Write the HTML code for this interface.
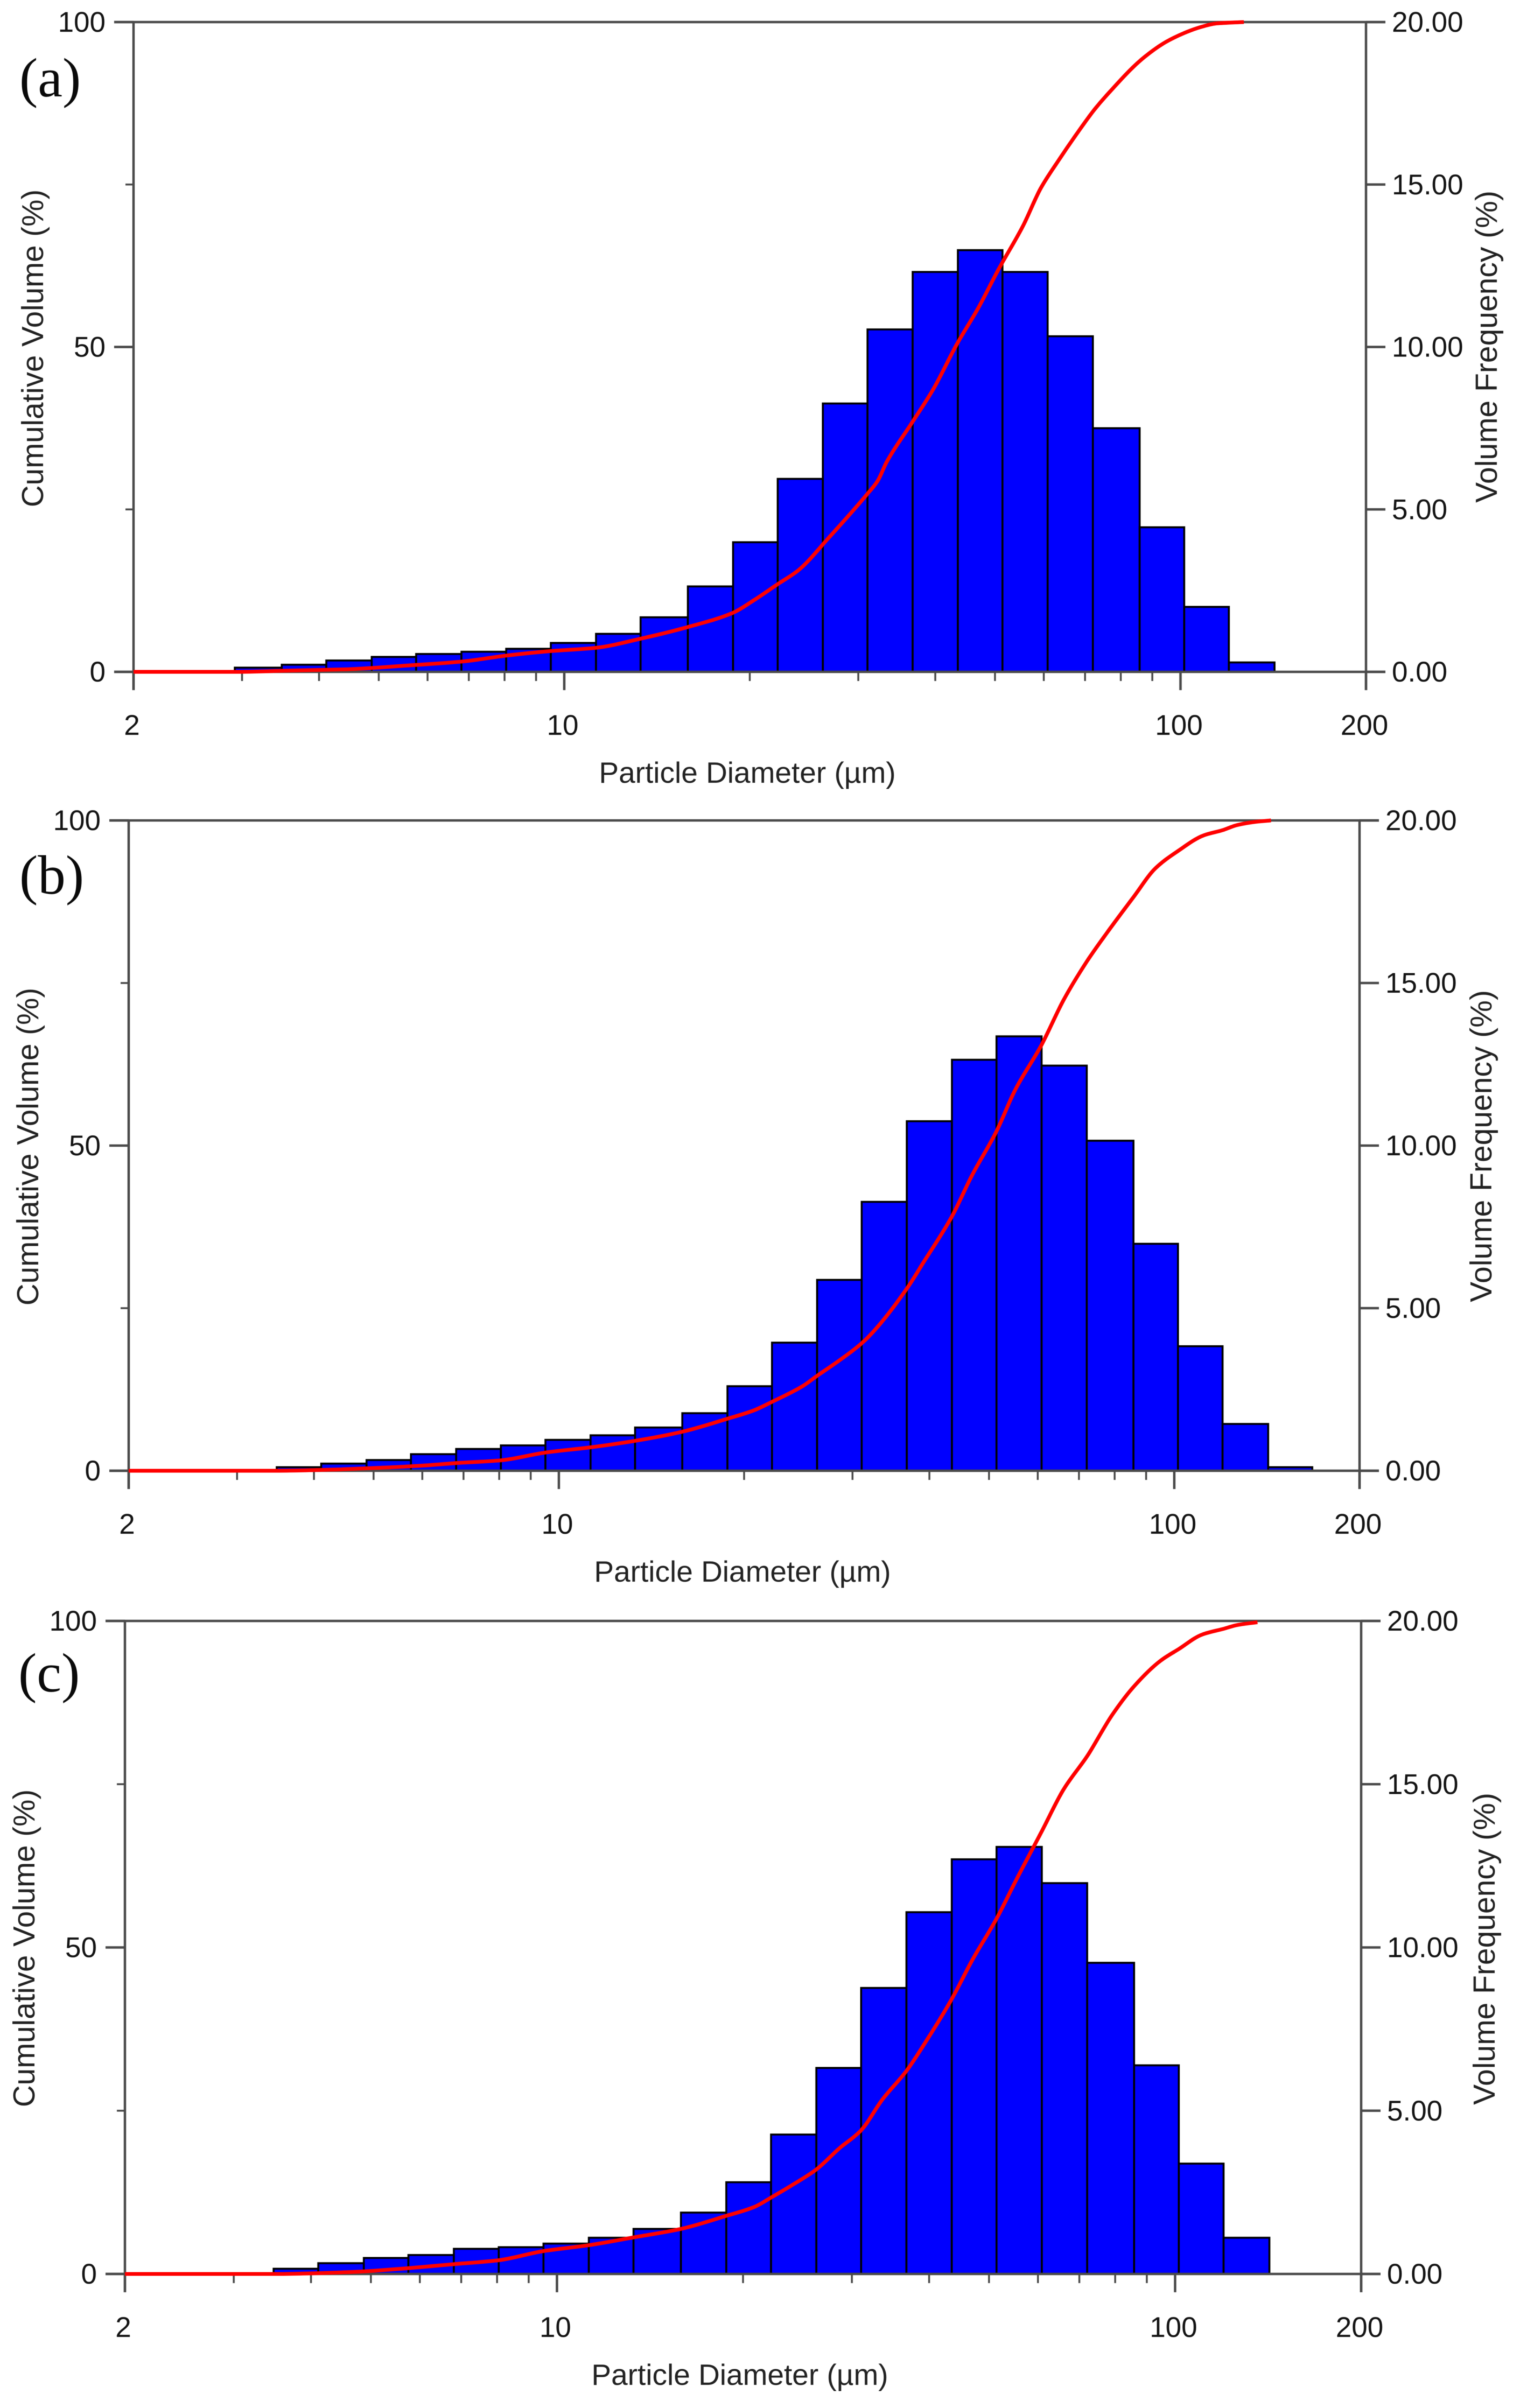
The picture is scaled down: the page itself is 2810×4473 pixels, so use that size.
<!DOCTYPE html>
<html lang="en">
<head>
<meta charset="utf-8">
<title>Particle size distributions</title>
<style>
html,body{margin:0;padding:0;background:#fff;}
svg{display:block;filter:blur(0.8px);}
text{font-family:"Liberation Sans",sans-serif;fill:#141414;}
.panel-tag{font-family:"Liberation Serif",serif;font-size:103px;fill:#0a0a0a;}
.axis-title{fill:#222;}
.x-title{font-size:55px;}
.left-title{font-size:56.5px;}
.right-title{font-size:57px;}
</style>
</head>
<body>
<svg id="figure" xmlns="http://www.w3.org/2000/svg" width="2810" height="4473" viewBox="0 0 2810 4473">
  <rect x="0" y="0" width="2810" height="4473" fill="#ffffff"/>

  <g id="panel-a"></g>
  <text class="panel-tag" x="36" y="179">(a)</text>
  <text class="axis-title x-title" x="1388" y="1454" text-anchor="middle">Particle Diameter (µm)</text>
  <text class="axis-title left-title" transform="translate(80 647) rotate(-90)" text-anchor="middle">Cumulative Volume (%)</text>
  <text class="axis-title right-title" transform="translate(2780 644) rotate(-90)" text-anchor="middle">Volume Frequency (%)</text>

  <g id="panel-b"></g>
  <text class="panel-tag" x="36" y="1660">(b)</text>
  <text class="axis-title x-title" x="1379" y="2938" text-anchor="middle">Particle Diameter (µm)</text>
  <text class="axis-title left-title" transform="translate(71 2130) rotate(-90)" text-anchor="middle">Cumulative Volume (%)</text>
  <text class="axis-title right-title" transform="translate(2770 2129) rotate(-90)" text-anchor="middle">Volume Frequency (%)</text>

  <g id="panel-c"></g>
  <text class="panel-tag" x="34" y="3142">(c)</text>
  <text class="axis-title x-title" x="1374" y="4430" text-anchor="middle">Particle Diameter (µm)</text>
  <text class="axis-title left-title" transform="translate(64 3619) rotate(-90)" text-anchor="middle">Cumulative Volume (%)</text>
  <text class="axis-title right-title" transform="translate(2776 3620) rotate(-90)" text-anchor="middle">Volume Frequency (%)</text>
</svg>

<script>
// ---- Chart data ----
const binEdges = [2.92,3.48,4.11,4.87,5.75,6.81,8.05,9.51,11.26,13.3,15.87,18.79,22.2,26.28,31.05,36.76,43.52,51.42,60.87,72.08,85.84,101.4,119.8,142.1,167.6];

const freqA = [0.13,0.22,0.35,0.46,0.55,0.62,0.71,0.89,1.17,1.68,2.63,3.99,5.94,8.26,10.54,12.31,12.98,12.31,10.33,7.5,4.45,2.0,0.29,0];
const freqB = [0,0.11,0.22,0.33,0.51,0.67,0.78,0.95,1.09,1.33,1.77,2.6,3.94,5.87,8.27,10.75,12.64,13.36,12.46,10.15,6.98,3.83,1.44,0.11];
const freqC = [0,0.16,0.33,0.49,0.58,0.77,0.82,0.93,1.11,1.38,1.88,2.81,4.27,6.31,8.76,11.08,12.7,13.08,11.97,9.53,6.39,3.38,1.11,0];

const cumDiamA = [2,2.92,3.59,4.45,5.62,6.85,8.05,9.51,11.26,13.3,15.87,18.79,20.37,22.2,23.96,26.9,30.98,32.26,33.36,36.76,39.7,43.4,46.97,50.7,55.5,59.3,63.5,67.4,72.6,75.5,87.6,96.2,108.5,114.6,126.7];
const cumVolA = [0,0,0.2,0.4,1.0,1.6,2.5,3.2,3.7,5.1,6.9,9.1,11.1,13.5,15.6,20.7,27.3,29.4,32.3,38.5,43.5,50.5,56.0,62,68.6,74.4,78.8,82.4,86.6,88.5,94.7,97.3,99.3,99.8,100];

const cumDiamB = [2,3.48,4.37,5.23,6.04,6.85,8.05,9.51,11.26,13.3,15.87,18.79,20.76,22.2,24.88,26.28,28.5,31.05,32.65,36.76,39.1,43.52,46.9,51.42,55.1,60.87,66.1,72.08,77.7,85.84,93.1,101.4,111.6,119.8,126.6,136,143.6];
const cumVolB = [0,0,0.2,0.5,0.8,1.2,1.6,2.8,3.6,4.6,6.0,8.0,9.3,10.6,13.0,14.6,16.9,19.6,21.7,28,32,39.1,45.4,52.2,58.5,65.5,72.4,78.3,82.7,88.2,92.6,95.3,97.7,98.5,99.3,99.8,100];

const cumDiamC = [2,3.48,4.66,5.77,6.81,8.05,9.51,11.26,13.3,15.87,18.79,20.9,22.2,24.1,26.28,28.6,31.05,33.6,36.76,39.9,43.52,47,51.42,55.3,60.87,66,72.08,79.1,85.84,94.7,101.4,110.5,119.8,126.4,135.9];
const cumVolC = [0,0,0.3,0.9,1.5,2.1,3.5,4.4,5.6,6.9,8.9,10.3,11.7,13.7,16,19.2,22,26.7,31.1,36.2,42.1,48.1,54.4,60.3,67.8,74.2,79.3,85.6,90,93.9,95.7,97.9,98.8,99.4,99.8];

const xMajorTicks = [2,10,100,200];
const xMinorTicks = [3,4,5,6,7,8,9,20,30,40,50,60,70,80,90];
const leftMajorTicks = [0,50,100];
const leftMinorTicks = [25,75];
const rightTicks = [0,5,10,15,20];
const rightTickLabels = ["0.00","5.00","10.00","15.00","20.00"];

// ---- Panel layout ----
const panels = [
  {id:"a", left:248, right:2537, top:41,   bottom:1248, freq:freqA, diam:cumDiamA, vol:cumVolA},
  {id:"b", left:239, right:2525, top:1524, bottom:2732, freq:freqB, diam:cumDiamB, vol:cumVolB},
  {id:"c", left:232, right:2528, top:3011, bottom:4224, freq:freqC, diam:cumDiamC, vol:cumVolC}
];

const SVG_NS = "http://www.w3.org/2000/svg";
const AXIS = "#4a4a4a";

function make(parent, tag, attrs) {
  const el = document.createElementNS(SVG_NS, tag);
  for (const k in attrs) el.setAttribute(k, attrs[k]);
  parent.appendChild(el);
  return el;
}

// Monotone cubic path through points so the curve stays smooth and never overshoots
function smoothPath(xs, ys) {
  const n = xs.length;
  const dx = [], slope = [], m = [];
  for (let i = 0; i < n - 1; i++) {
    dx[i] = xs[i + 1] - xs[i];
    slope[i] = (ys[i + 1] - ys[i]) / dx[i];
  }
  m[0] = slope[0];
  m[n - 1] = slope[n - 2];
  for (let i = 1; i < n - 1; i++) {
    if (slope[i - 1] * slope[i] <= 0) {
      m[i] = 0;
    } else {
      const w1 = 2 * dx[i] + dx[i - 1];
      const w2 = dx[i] + 2 * dx[i - 1];
      m[i] = (w1 + w2) / (w1 / slope[i - 1] + w2 / slope[i]);
    }
  }
  let d = "M" + xs[0].toFixed(1) + " " + ys[0].toFixed(1);
  for (let i = 0; i < n - 1; i++) {
    const h = dx[i] / 3;
    d += " C" + (xs[i] + h).toFixed(1) + " " + (ys[i] + m[i] * h).toFixed(1) + " " +
         (xs[i + 1] - h).toFixed(1) + " " + (ys[i + 1] - m[i + 1] * h).toFixed(1) + " " +
         xs[i + 1].toFixed(1) + " " + ys[i + 1].toFixed(1);
  }
  return d;
}

panels.forEach(function (p) {
  const g = document.getElementById("panel-" + p.id);
  const xScale = d => p.left + (p.right - p.left) * Math.log10(d / 2) / 2;
  const cumScale = v => p.bottom - (p.bottom - p.top) * v / 100;
  const freqScale = v => p.bottom - (p.bottom - p.top) * v / 20;

  // Bars
  p.freq.forEach(function (v, i) {
    if (v <= 0) return;
    const x0 = xScale(binEdges[i]);
    const x1 = xScale(binEdges[i + 1]);
    const y = freqScale(v);
    const bar = make(g, "rect", {x:x0, y:y, width:x1 - x0, height:p.bottom - y, fill:"#0000ff", stroke:"#000000", "stroke-width":3.6});
    
    
  });

  // Axis frame lines
  const topLine = make(g, "line", {x1:p.left - 36, x2:p.right + 36, y1:p.top, y2:p.top, stroke:AXIS, "stroke-width":4.5});
  
  
  const bottomLine = make(g, "line", {x1:p.left - 36, x2:p.right + 36, y1:p.bottom, y2:p.bottom, stroke:AXIS, "stroke-width":4.5});
  
  
  const leftLine = make(g, "line", {x1:p.left, x2:p.left, y1:p.top, y2:p.bottom + 34, stroke:AXIS, "stroke-width":4.5});
  
  
  const rightLine = make(g, "line", {x1:p.right, x2:p.right, y1:p.top, y2:p.bottom + 34, stroke:AXIS, "stroke-width":4.5});
  
  

  // X ticks
  xMajorTicks.forEach(function (d) {
    const x = xScale(d);
    const tick = make(g, "line", {x1:x, x2:x, y1:p.bottom, y2:p.bottom + 34, stroke:AXIS, "stroke-width":4.5});
    
    
    const label = make(g, "text", {x:x - 3, y:p.bottom + 117, "text-anchor":"middle", "font-size":53});
    
    
    label.textContent = String(d);
  });
  xMinorTicks.forEach(function (d) {
    const x = xScale(d);
    const tick = make(g, "line", {x1:x, x2:x, y1:p.bottom, y2:p.bottom + 17, stroke:AXIS, "stroke-width":3.5});
    
    
  });

  // Left y ticks
  leftMajorTicks.forEach(function (v) {
    const y = cumScale(v);
    const tick = make(g, "line", {x1:p.left - 36, x2:p.left, y1:y, y2:y, stroke:AXIS, "stroke-width":4.5});
    
    
    const label = make(g, "text", {x:p.left - 52, y:y + 18, "text-anchor":"end", "font-size":53});
    
    
    label.textContent = String(v);
  });
  leftMinorTicks.forEach(function (v) {
    const y = cumScale(v);
    const tick = make(g, "line", {x1:p.left - 15, x2:p.left, y1:y, y2:y, stroke:AXIS, "stroke-width":3.5});
    
    
  });

  // Right y ticks
  rightTicks.forEach(function (v, i) {
    const y = freqScale(v);
    const tick = make(g, "line", {x1:p.right, x2:p.right + 36, y1:y, y2:y, stroke:AXIS, "stroke-width":4.5});
    
    
    const label = make(g, "text", {x:p.right + 48, y:y + 18, "text-anchor":"start", "font-size":53});
    
    
    label.textContent = rightTickLabels[i];
  });

  // Cumulative curve
  const curvePath = smoothPath(p.diam.map(xScale), p.vol.map(cumScale));
  const curve = make(g, "path", {d:curvePath, fill:"none", stroke:"#ff0000", "stroke-width":7, "stroke-linejoin":"round"});
  
  
});
</script>
</body>
</html>
